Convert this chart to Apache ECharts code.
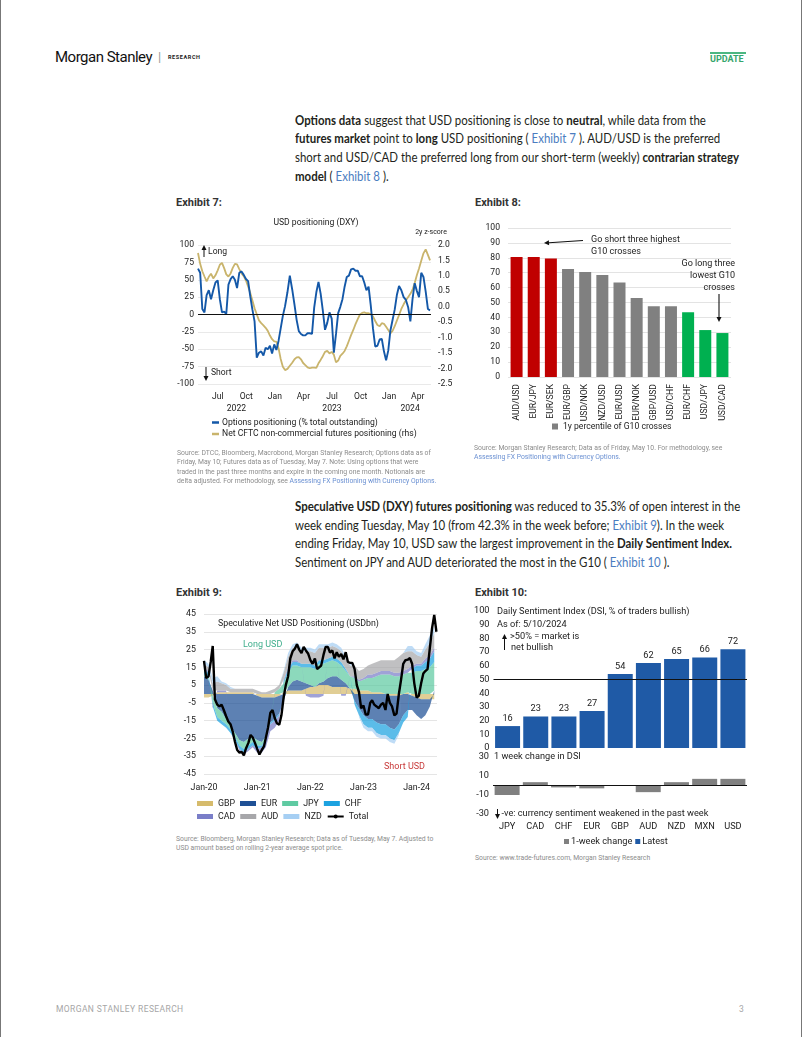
<!DOCTYPE html>
<html><head><meta charset="utf-8">
<script src="https://cdn.jsdelivr.net/npm/echarts@6/dist/echarts.min.js"></script>
<style>
html,body{margin:0;padding:0;background:#fff;}
body{width:800px;height:1037px;position:relative;overflow:hidden;font-family:Roboto,sans-serif;border-left:1px solid #777;border-right:1px solid #777;}
.abs{position:absolute;white-space:nowrap;}
.para{position:absolute;left:294px;font-family:Lato,sans-serif;font-size:13px;line-height:18.7px;color:#231f20;white-space:nowrap;transform:scaleX(0.882);transform-origin:0 0;}
.para b{font-weight:700;}
.link{color:#4b7cc0;}
.exh{position:absolute;font:bold 11px Roboto;color:#333;}
.src{position:absolute;font:6.8px/9.4px Roboto;color:#8c8c8c;white-space:nowrap;}
.src .link{color:#6a90d2;}
.chart{position:absolute;}
</style></head><body>

<div class="abs" style="left:54px;top:48px;font:15px/18px Roboto;color:#111;letter-spacing:-0.5px">Morgan Stanley</div>
<div class="abs" style="left:157px;top:49px;font:13px/16px Roboto;color:#999">|</div>
<div class="abs" style="left:167px;top:54px;font:bold 5.5px/7px Roboto;color:#222;letter-spacing:0.6px">RESEARCH</div>
<div class="abs" style="left:709px;top:52px;width:36px;height:2px;background:#4cb782"></div>
<div class="abs" style="left:709px;top:54px;font:bold 9px/11px Roboto;color:#35a56c">UPDATE</div>

<div class="para" style="top:110.5px">
<b>Options data</b> suggest that USD positioning is close to <b>neutral</b>, while data from the<br>
<b>futures market</b> point to <b>long</b> USD positioning ( <span class="link">Exhibit 7</span> ). AUD/USD is the preferred<br>
short and USD/CAD the preferred long from our short-term (weekly) <b>contrarian strategy</b><br>
<b>model</b> ( <span class="link">Exhibit 8</span> ).
</div>

<div class="exh" style="left:175px;top:196px">Exhibit 7:</div>
<div class="exh" style="left:474px;top:196px">Exhibit 8:</div>

<div id="c7" class="chart" style="left:170px;top:210px;width:290px;height:240px"></div>
<div id="c8" class="chart" style="left:470px;top:210px;width:300px;height:230px"></div>

<div class="src" style="left:176px;top:449px">Source: DTCC, Bloomberg, Macrobond, Morgan Stanley Research; Options data as of<br>Friday, May 10; Futures data as of Tuesday, May 7. Note: Using options that were<br>traded in the past three months and expire in the coming one month. Notionals are<br>delta adjusted. For methodology, see <span class="link">Assessing FX Positioning with Currency Options.</span></div>
<div class="src" style="left:473px;top:444px">Source: Morgan Stanley Research; Data as of Friday, May 10. For methodology, see<br><span class="link">Assessing FX Positioning with Currency Options.</span></div>

<div class="para" style="top:497px">
<b>Speculative USD (DXY) futures positioning</b> was reduced to 35.3% of open interest in the<br>
week ending Tuesday, May 10 (from 42.3% in the week before; <span class="link">Exhibit 9</span>). In the week<br>
ending Friday, May 10, USD saw the largest improvement in the <b>Daily Sentiment Index.</b><br>
Sentiment on JPY and AUD deteriorated the most in the G10 ( <span class="link">Exhibit 10</span> ).
</div>

<div class="exh" style="left:175px;top:586px">Exhibit 9:</div>
<div class="exh" style="left:474px;top:586px">Exhibit 10:</div>

<div id="c9" class="chart" style="left:170px;top:605px;width:290px;height:225px"></div>
<div id="c10" class="chart" style="left:470px;top:600px;width:300px;height:252px"></div>

<div class="src" style="left:175px;top:835px">Source: Bloomberg, Morgan Stanley Research; Data as of Tuesday, May 7. Adjusted to<br>USD amount based on rolling 2-year average spot price.</div>
<div class="src" style="left:474px;top:854px">Source: www.trade-futures.com, Morgan Stanley Research</div>

<div class="abs" style="left:55px;top:1003px;font:8.5px/12px Roboto;color:#a6a6a6;letter-spacing:0.4px">MORGAN STANLEY RESEARCH</div>
<div class="abs" style="left:738px;top:1003px;font:8.5px/12px Roboto;color:#a6a6a6">3</div>

<script>
// ================= Exhibit 7 data =================
const ex7StartDate = '2022-04-29';   // weekly observations from this date
const ex7OptionsPos = [
 66, 60, 8, 3, 28, 35, 22, 35, 46, 49,
 22, 3, 4, 1, 43, 51, 55, 50, 38, 60,
 62, 57, 51, 48, 26, 7, -10, -62, -55, -53,
 -59, -48, -50, -45, -56, -43, -51, -38, -20, -2,
 12, 32, 56, 36, 14, -8, -24, -28, -30, -30,
 -27, -27, -28, 10, 32, 47, 30, 6, -22, -12,
 3, -6, -55, -28, 2, 11, 22, 40, 54, 56,
 65, 66, 63, 63, 55, 55, 46, 35, 40, 13,
 -20, -46, -45, -36, -35, -53, -66, -52, -23, -8,
 7, 28, 41, 35, 25, 21, 10, -10, 22, 45,
 34, 25, 60, 54, 33, 8, 6
];
const ex7CftcZ = [
 1.74, 1.39, 1.15, 0.98, 0.82, 0.97, 1.07, 0.92, 1.02, 1.18,
 1.36, 1.42, 1.25, 1.05, 0.98, 1.08, 1.26, 1.39, 1.37, 1.22,
 1.08, 0.99, 0.85, 0.66, 0.45, 0.2, -0.05, -0.24, -0.44, -0.53,
 -0.6, -0.68, -0.78, -0.93, -1.05, -1.12, -1.13, -1.34, -1.69, -1.94,
 -2.05, -2.01, -1.91, -1.81, -1.7, -1.64, -1.63, -1.7, -1.82, -1.89,
 -1.96, -1.99, -1.97, -1.97, -1.98, -1.83, -1.72, -1.6, -1.46, -1.43,
 -1.51, -1.46, -1.55, -1.8, -1.74, -1.59, -1.52, -1.43, -1.28, -1.1,
 -0.92, -0.75, -0.56, -0.4, -0.25, -0.2, -0.18, -0.21, -0.21, -0.24,
 -0.31, -0.46, -0.59, -0.63, -0.53, -0.55, -0.65, -0.75, -0.86, -0.78,
 -0.63, -0.45, -0.27, -0.07, 0.08, 0.21, 0.32, 0.42, 0.55, 0.77,
 1.02, 1.24, 1.49, 1.73, 1.86, 1.68, 1.5
];
const ex7BaseYear = 2022;
const ex7MonthTicks = [6, 9, 12, 15, 18, 21, 24, 27];  // months since Jan 2022
const ex7Years = [2022, 2023, 2024];
const monthNames = ['Jan','Feb','Mar','Apr','May','Jun','Jul','Aug','Sep','Oct','Nov','Dec'];

// ================= Exhibit 8 data =================
const ex8Crosses = ['AUD/USD','EUR/JPY','EUR/SEK','EUR/GBP','USD/NOK','NZD/USD','EUR/USD','EUR/NOK','GBP/USD','USD/CHF','EUR/CHF','USD/JPY','USD/CAD'];
const ex8Percentile = [80.5, 80.5, 79.5, 72.5, 70.5, 68.5, 63.5, 53, 47.5, 47.5, 43.5, 31.5, 29.5];
const ex8Signal = ['short','short','short','none','none','none','none','none','none','none','long','long','long'];

// ================= Exhibit 9 data (USDbn) =================
// monthly components from Jan 2020 to May 2024
const ex9StartYear = 2020;
const ex9Currencies = ['GBP','EUR','JPY','CHF','CAD','AUD','NZD'];
const ex9GBP = [-2,-2,-1,1,1,1,1,1,1,1,1,1, -1,-2,-2,-2,-2,-1,1,2,2,2,2,3, 4,4,5,5,5,4,4,4,4,3,3,2, 2,2,1,1,1,0,-1,-1,-1,0,1,-1, -2,-3,-3,-3,-3];
const ex9EUR = [10,8,2,-8,-10,-14,-18,-22,-26,-27,-25,-24, -25,-25,-22,-14,-12,-10,-4,2,5,6,5,3, 1,0,1,2,4,6,6,4,2,0,-4,-8, -12,-14,-14,-16,-17,-17,-18,-19,-16,-12,-9,-8, -10,-11,-9,-4,2];
const ex9JPY = [1,1,-4,-5,-5,-3,-2,-2,-3,-4,-4,-3, -3,-2,-1,0,1,3,5,8,9,8,8,9, 10,10,11,10,9,9,8,8,7,7,6,5, 6,7,8,9,10,11,11,10,10,11,11,12, 13,13,14,15,16];
const ex9CHF = [3,3,-2,-2,-2,-2,-2,-2,-2,-2,-2,-2, -2,-1,-1,-1,-1,-1,1,2,2,2,2,2, 2,2,2,2,2,2,2,2,1,0,-2,-4, -5,-5,-5,-6,-6,-6,-6,-6,-5,-4,-4,2, 3,3,4,5,6];
const ex9CAD = [1,1,-1,1,1,1,0,0,-1,-1,-1,-1, -2,-3,-4,-4,-4,-3,1,1,1,1,0,-1, -2,-2,-2,-1,0,0,0,-1,-1,0,1,1, 1,2,2,2,2,2,2,2,2,2,2,2, 1,1,2,2,2];
const ex9AUD = [2,2,4,5,4,3,2,2,2,2,2,2, 2,1,1,2,2,2,4,6,7,8,7,7, 7,7,7,7,6,6,6,6,6,6,6,5, 5,5,6,6,6,6,6,7,9,10,10,8, 5,4,5,7,8];
const ex9NZD = [2,2,3,3,1,1,1,0,0,0,0,0, 0,0,0,0,0,0,1,2,2,2,2,2, 2,2,2,2,2,2,2,2,1,1,0,-1, -2,-2,-2,-2,-2,-2,-2,-2,-1,0,3,3, 2,2,3,4,4];
// semi-monthly total (1st and 16th of each month) from Jan 2020
const ex9Total = [
 18.6, 9, 10, 18, 27, -3, -6, -7, -6, -9,
 -12.5, -15.5, -17, -21, -27, -31.5, -33, -32.5, -34.5, -30.5,
 -27.5, -23, -24.5, -27.5, -31, -34, -31.5, -29.5, -29.5, -19,
 -10.5, -9, -13.5, -16.5, -17.3, -12, -2, 5, 10, 20,
 24, 25.5, 28, 25, 23, 26.5, 24.5, 22.8, 19, 17,
 20, 14, 13, 16, 22, 26.5, 26.5, 23.3, 24.5, 20,
 23.5, 21, 22.5, 19.5, 23.5, 18, 17.5, 17.5, 14, 5,
 1, -8, -6.5, -11.5, -11.5, -5, -3.5, -6, -7, -8,
 -6, -5, -9, 0, -5, -7, -12, -11, 0, 8,
 17, 19, 19.3, 20.2, 17, 6, -2, -1, 6, 11.5,
 12.9, 14, 26, 37, 44.5, 35
];

// ================= Exhibit 10 data =================
const ex10Ccy = ['JPY','CAD','CHF','EUR','GBP','AUD','NZD','MXN','USD'];
const ex10Latest = [16, 23, 23, 27, 54, 62, 65, 66, 72];
const ex10Change = [-10, 3.5, -2, -3, 0, -7, 3.5, 7, 7];

// ================= helpers =================
const FONT = 'Roboto';
function monthIndex(ts, baseYear) {
  const d = new Date(ts);
  const y = d.getUTCFullYear(), m = d.getUTCMonth(), day = d.getUTCDate();
  const dim = new Date(Date.UTC(y, m + 1, 0)).getUTCDate();
  return (y - baseYear) * 12 + m + (day - 1) / dim;
}
function arrow(x1, y1, x2, y2, color, w) {
  const a = Math.atan2(y2 - y1, x2 - x1), L = 5, W = 2.5;
  const bx = x2 - L * Math.cos(a), by = y2 - L * Math.sin(a);
  const px = -Math.sin(a) * W, py = Math.cos(a) * W;
  return [
    {type: 'line', silent: true, z: 100, shape: {x1: x1, y1: y1, x2: bx, y2: by}, style: {stroke: color, lineWidth: w}},
    {type: 'polygon', silent: true, z: 100, shape: {points: [[x2, y2], [bx + px, by + py], [bx - px, by - py]]}, style: {fill: color}}
  ];
}
function txt(x, y, s, size, color, align) {
  return {type: 'text', silent: true, z: 100, x: x, y: y,
    style: {text: s, fontSize: size, fontFamily: FONT, fill: color || '#222', textAlign: align || 'left', textVerticalAlign: 'middle'}};
}

// ================= Exhibit 7 chart =================
(function () {
  const t0 = Date.parse(ex7StartDate + 'T00:00:00Z');
  const xs = ex7OptionsPos.map((_, i) => monthIndex(t0 + i * 7 * 864e5, ex7BaseYear));
  const xMin = xs[0], xMax = xs[xs.length - 1] + 0.1;
  const yearCenters = ex7Years.map(y => {
    const lo = Math.max(xMin, (y - ex7BaseYear) * 12), hi = Math.min(xMax, (y - ex7BaseYear + 1) * 12);
    return (lo + hi) / 2;
  });
  const c = echarts.init(document.getElementById('c7'));
  c.setOption({
    animation: false,
    textStyle: {fontFamily: FONT},
    title: {text: 'USD positioning (DXY)', left: 'center', top: 3,
      textStyle: {fontSize: 8.6, fontWeight: 'normal', color: '#222', fontFamily: FONT}},
    grid: {left: 27, right: 30, top: 35, height: 139},
    legend: {orient: 'vertical', left: 41, top: 208, padding: 0, itemWidth: 7, itemHeight: 2.5, itemGap: 2.5, icon: 'rect',
      textStyle: {fontSize: 8.6, color: '#222', fontFamily: FONT, padding: [0, 0, 0, -2]},
      data: ['Options positioning (% total outstanding)', 'Net CFTC non-commercial futures positioning (rhs)']},
    xAxis: [
      {type: 'value', min: xMin, max: xMax, splitLine: {show: false}, axisLine: {show: false}, axisTick: {show: false},
        axisLabel: {customValues: ex7MonthTicks, fontSize: 8.6, color: '#222', margin: 8,
          formatter: v => monthNames[((Math.round(v) % 12) + 12) % 12]}},
      {type: 'value', min: xMin, max: xMax, position: 'bottom', offset: 12.5, splitLine: {show: false},
        axisLine: {show: false}, axisTick: {show: false},
        axisLabel: {customValues: yearCenters, fontSize: 8.6, color: '#222', margin: 8,
          formatter: v => String(ex7BaseYear + Math.floor(v / 12))}}
    ],
    yAxis: [
      {type: 'value', min: -100, max: 100, interval: 25, axisLine: {show: false}, axisTick: {show: false},
        splitLine: {lineStyle: {color: '#e3e3e3', width: 0.8}},
        axisLabel: {fontSize: 8.6, color: '#222', margin: 4}},
      {type: 'value', min: -2.5, max: 2, interval: 0.5, position: 'right', axisLine: {show: false}, axisTick: {show: false},
        splitLine: {show: false}, name: '2y z-score', nameGap: 9,
        nameTextStyle: {fontSize: 7, color: '#222', fontFamily: FONT},
        axisLabel: {fontSize: 8.6, color: '#222', margin: 7, formatter: v => v.toFixed(1)}}
    ],
    series: [
      {name: 'Net CFTC non-commercial futures positioning (rhs)', type: 'line', yAxisIndex: 1, symbol: 'none',
        data: ex7CftcZ.map((v, i) => [xs[i], v]), lineStyle: {color: '#c9b46c', width: 1.8}, itemStyle: {color: '#c9b46c'}},
      {name: 'Options positioning (% total outstanding)', type: 'line', yAxisIndex: 0, symbol: 'none',
        data: ex7OptionsPos.map((v, i) => [xs[i], v]), lineStyle: {color: '#1458a8', width: 1.9}, itemStyle: {color: '#1458a8'},
        markLine: {silent: true, symbol: 'none', label: {show: false}, lineStyle: {color: '#111', width: 1, type: 'solid'},
          data: [{yAxis: 0}]}}
    ],
    graphic: [].concat(
      arrow(33, 47, 33, 35, '#111', 1),
      [txt(37, 42, 'Long', 8.6)],
      arrow(35, 157, 35, 171, '#111', 1),
      [txt(40, 163, 'Short', 8.6)]
    )
  });
})();

// ================= Exhibit 8 chart =================
(function () {
  const colorOf = {short: '#c00000', none: '#808080', long: '#00b050'};
  const c = echarts.init(document.getElementById('c8'));
  c.setOption({
    animation: false,
    textStyle: {fontFamily: FONT},
    grid: {left: 37, right: 40, top: 18, height: 149},
    legend: {left: 81, top: 212, padding: 0, icon: 'rect', itemWidth: 6, itemHeight: 6, itemGap: 4,
      textStyle: {fontSize: 8.6, color: '#222', fontFamily: FONT}, data: ['1y percentile of G10 crosses']},
    xAxis: {type: 'category', data: ex8Crosses, axisLine: {show: false}, axisTick: {show: false},
      axisLabel: {rotate: 90, fontSize: 8.6, color: '#222', margin: 7, interval: 0}},
    yAxis: {type: 'value', min: 0, max: 100, interval: 10, axisLine: {show: false}, axisTick: {show: false},
      splitLine: {lineStyle: {color: '#dcdcdc', width: 0.8}},
      axisLabel: {fontSize: 8.6, color: '#222', margin: 8}},
    series: [{name: '1y percentile of G10 crosses', type: 'bar', barWidth: 12,
      itemStyle: {color: '#808080'},
      data: ex8Percentile.map((v, i) => ({value: v, itemStyle: {color: colorOf[ex8Signal[i]]}}))}],
    graphic: [].concat(
      arrow(112, 30.5, 73, 33, '#111', 1.1),
      [txt(120, 29.5, 'Go short three highest', 9),
       txt(120, 42, 'G10 crosses', 9),
       txt(264, 54, 'Go long three', 9, '#222', 'right'),
       txt(264, 66, 'lowest G10', 9, '#222', 'right'),
       txt(264, 78, 'crosses', 9, '#222', 'right')],
      arrow(248, 84, 248, 112, '#111', 1.1)
    )
  });
})();

// ================= Exhibit 9 chart =================
(function () {
  const comp = {GBP: ex9GBP, EUR: ex9EUR, JPY: ex9JPY, CHF: ex9CHF, CAD: ex9CAD, AUD: ex9AUD, NZD: ex9NZD};
  const colors = {GBP: '#d6bb6c', EUR: '#1f5095', JPY: '#5fcaa2', CHF: '#1ca2e0', CAD: '#7a7ec8', AUD: '#a7a7aa', NZD: '#a6cff3'};
  const monthTs = i => new Date(ex9StartYear, i, 1).getTime();
  const halfMonthTs = i => new Date(ex9StartYear, Math.floor(i / 2), i % 2 ? 16 : 1).getTime();
  const series = ex9Currencies.map(k => ({
    name: k, type: 'line', stack: 'usd', symbol: 'none', z: 2,
    data: comp[k].map((v, i) => [monthTs(i), v]),
    lineStyle: {width: 0}, itemStyle: {color: colors[k]},
    areaStyle: {color: colors[k], opacity: 0.72}
  }));
  series.push({name: 'Total', type: 'line', symbol: 'none', z: 5,
    data: ex9Total.map((v, i) => [halfMonthTs(i), v]),
    lineStyle: {color: '#000', width: 2.4}, itemStyle: {color: '#000'}});
  const legendBase = {itemWidth: 16, itemHeight: 5, itemGap: 5, left: 26, padding: 0,
    textStyle: {fontSize: 8.8, color: '#222', fontFamily: FONT, width: 39}};
  const YEAR = 365 * 864e5;
  const c = echarts.init(document.getElementById('c9'));
  c.setOption({
    animation: false,
    textStyle: {fontFamily: FONT},
    grid: {left: 33, right: 24, top: 9, height: 160},
    legend: [
      Object.assign({}, legendBase, {top: 194, data: ['GBP', 'EUR', 'JPY', 'CHF'].map(n => ({name: n, icon: 'rect'}))}),
      Object.assign({}, legendBase, {top: 207, data: [{name: 'CAD', icon: 'rect'}, {name: 'AUD', icon: 'rect'}, {name: 'NZD', icon: 'rect'}, {name: 'Total'}]})
    ],
    xAxis: {type: 'time', min: monthTs(0), max: new Date(2024, 4, 20).getTime(), minInterval: YEAR, maxInterval: YEAR,
      splitLine: {show: false}, axisLine: {show: false}, axisTick: {show: false},
      axisLabel: {fontSize: 8.8, color: '#222', margin: 9, showMinLabel: true, hideOverlap: false,
        formatter: function (v) {
          const d = new Date(v);
          return (d.getMonth() === 0 && d.getDate() === 1) ? 'Jan-' + String(d.getFullYear()).slice(2) : '';
        }}},
    yAxis: {type: 'value', min: -45, max: 45, interval: 10, axisLine: {show: false}, axisTick: {show: false},
      splitLine: {lineStyle: {color: '#dedede', width: 0.8}},
      axisLabel: {fontSize: 8.8, color: '#222', margin: 8}},
    series: series,
    graphic: [
      txt(47, 19, 'Speculative Net USD Positioning (USDbn)', 8.8),
      txt(72, 40, 'Long USD', 9, '#3fae8c'),
      txt(213, 162, 'Short USD', 9, '#c83a3a')
    ]
  });
})();

// ================= Exhibit 10 chart =================
(function () {
  const c = echarts.init(document.getElementById('c10'));
  const FS = 9.2;
  c.setOption({
    animation: false,
    textStyle: {fontFamily: FONT},
    grid: [
      {left: 22, right: 24, top: 11, height: 137},
      {left: 22, right: 24, top: 157, height: 57}
    ],
    legend: {left: 93, top: 237, padding: 0, icon: 'rect', itemWidth: 5, itemHeight: 5, itemGap: 3,
      textStyle: {fontSize: FS, color: '#222', fontFamily: FONT, padding: [0, 0, 0, -3]},
      data: ['1-week change', 'Latest']},
    xAxis: [
      {type: 'category', gridIndex: 0, data: ex10Ccy, axisLine: {show: false}, axisTick: {show: false}, axisLabel: {show: false}},
      {type: 'category', gridIndex: 1, data: ex10Ccy, axisLine: {show: false}, axisTick: {show: false},
        axisLabel: {fontSize: FS, color: '#222', margin: 8}}
    ],
    yAxis: [
      {type: 'value', gridIndex: 0, min: 0, max: 100, interval: 10, splitLine: {show: false}, axisLine: {show: false},
        axisTick: {show: false}, axisLabel: {fontSize: FS, color: '#222', margin: 4}},
      {type: 'value', gridIndex: 1, min: -30, max: 30, interval: 20, splitLine: {show: false}, axisLine: {show: false},
        axisTick: {show: false}, axisLabel: {fontSize: FS, color: '#222', margin: 4}}
    ],
    series: [
      {name: '1-week change', type: 'bar', xAxisIndex: 1, yAxisIndex: 1, barWidth: 25, data: ex10Change,
        itemStyle: {color: '#808080'},
        markLine: {silent: true, symbol: 'none', label: {show: false}, lineStyle: {color: '#111', width: 1, type: 'solid'}, data: [{yAxis: 0}]}},
      {name: 'Latest', type: 'bar', xAxisIndex: 0, yAxisIndex: 0, barWidth: 25, data: ex10Latest,
        itemStyle: {color: '#1f5aa6'},
        label: {show: true, position: 'top', distance: 3, fontSize: FS, color: '#222'},
        markLine: {silent: true, symbol: 'none', label: {show: false}, lineStyle: {color: '#111', width: 1.2, type: 'solid'}, data: [{yAxis: 50}]}}
    ],
    graphic: [].concat(
      [txt(26, 12, 'Daily Sentiment Index (DSI, % of traders bullish)', FS),
       txt(26, 25, 'As of: 5/10/2024', FS),
       txt(39, 37, '>50% = market is', FS),
       txt(40, 48, 'net bullish', FS),
       txt(23, 157, '1 week change in DSI', FS),
       txt(30.5, 213.5, '-ve: currency sentiment weakened in the past week', FS)],
      arrow(33.5, 50, 33.5, 34, '#111', 1),
      arrow(26.5, 209, 26.5, 219, '#111', 1)
    )
  });
})();
</script>
</body></html>
